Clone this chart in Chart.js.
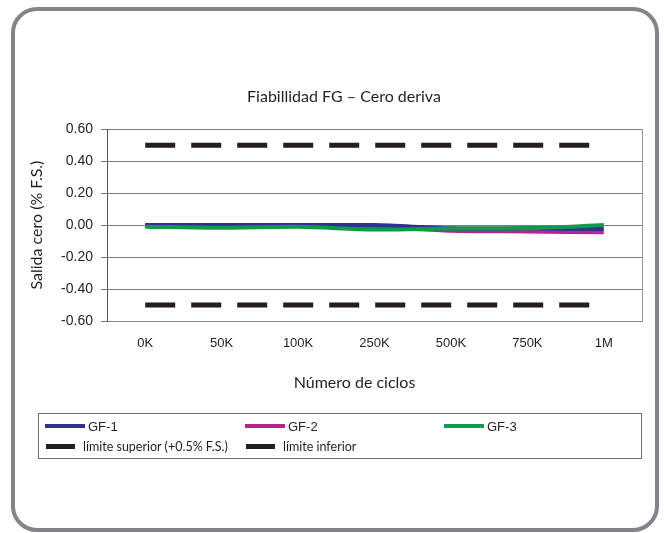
<!DOCTYPE html>
<html lang="es">
<head>
    <meta charset="utf-8">
    <title>Fiabillidad FG – Cero deriva</title>
    <script src="https://cdn.jsdelivr.net/npm/chart.js"></script>
    <style>
        body { margin: 0; padding: 0; background: #fff; }
        .frame { position: absolute; left: 11px; top: 7px; width: 648px; height: 525px; box-sizing: border-box;
                 border: 4px solid #838487; border-radius: 26px; }
        #chart { position: absolute; left: 0; top: 0; }
        .legend { position: absolute; left: 38px; top: 413px; width: 604px; height: 46px; box-sizing: border-box;
                  border: 1px solid #6d6e71; padding: 2px 0 0 6px;
                  display: grid; grid-template-columns: 200px 199px 1fr; grid-auto-rows: 20px; }
        .item { display: flex; align-items: center; color: #231f20; white-space: nowrap; }
        .swatch { display: inline-block; }
    </style>
</head>
<body>
    <div class="frame"></div>
    <canvas id="chart" width="664" height="533"></canvas>
    <div class="legend" id="legend"></div>

    <script>
        const ciclos = ["0K", "50K", "100K", "250K", "500K", "750K", "1M"];
        const gf1 = [0.00, 0.00, 0.00, 0.00, -0.02, -0.02, -0.025];
        const gf2 = [0.00, 0.00, -0.005, -0.01, -0.035, -0.04, -0.045];
        const gf3 = [-0.01, -0.017, -0.011, -0.028, -0.021, -0.019, 0.00];
        const limiteSuperior = [0.5, 0.5, 0.5, 0.5, 0.5, 0.5, 0.5];
        const limiteInferior = [-0.5, -0.5, -0.5, -0.5, -0.5, -0.5, -0.5];

        const dark = "#231f20";
        const serie = (label, data, color, order) => ({
            label, data, borderColor: color, backgroundColor: color, borderWidth: 4,
            pointRadius: 0, tension: 0.3, fill: false, order
        });
        const limite = (label, data) => ({
            label, data, borderColor: dark, backgroundColor: dark, borderWidth: 5,
            borderDash: [30, 16], borderCapStyle: "butt", pointRadius: 0, fill: false, order: 5
        });

        const chart = new Chart(document.getElementById("chart"), {
            type: "line",
            data: {
                labels: ciclos,
                datasets: [
                    serie("GF-1", gf1, "#2e3192", 1),
                    serie("GF-2", gf2, "#b8248f", 2),
                    serie("GF-3", gf3, "#0f9a4c", 0),
                    limite("límite superior (+0.5% F.S.)", limiteSuperior),
                    limite("límite inferior", limiteInferior)
                ]
            },
            options: {
                responsive: false,
                animation: false,
                layout: { padding: { left: 24, right: 0, top: 0, bottom: 141 } },
                plugins: {
                    legend: { display: false },
                    tooltip: { enabled: false },
                    title: {
                        display: true,
                        text: "Fiabillidad FG – Cero deriva",
                        color: dark,
                        font: { family: "Lato", size: 16, weight: "normal", lineHeight: 1.2 },
                        padding: { top: 87, bottom: 23 }
                    }
                },
                scales: {
                    x: {
                        offset: true,
                        grid: { display: false, drawTicks: false },
                        border: { display: true, color: "#8a8a8a" },
                        ticks: { color: dark, padding: 15, font: { family: "Liberation Sans", size: 13 } },
                        title: {
                            display: true,
                            // trailing en spaces nudge the centred title left, as in the original
                            text: "Número de ciclos\u2002\u2002\u2002\u2002\u2002",
                            color: dark,
                            font: { family: "Lato", size: 16, lineHeight: 1.2 },
                            padding: { top: 0, bottom: 0 }
                        },
                        afterFit: s => { s.height = 71; }
                    },
                    y: {
                        min: -0.6, max: 0.6,
                        grid: { color: "#7d7d7d", tickLength: 6 },
                        border: { color: "#555" },
                        ticks: {
                            stepSize: 0.2, color: dark, padding: 8,
                            font: { family: "Liberation Sans", size: 14 },
                            callback: v => v.toFixed(2)
                        },
                        title: {
                            display: true, text: "Salida cero (% F.S.)", color: dark,
                            font: { family: "Lato", size: 16, lineHeight: 1.2 },
                            padding: { top: 3, bottom: 0 }
                        },
                        afterFit: s => { s.width = 83; }
                    },
                    yRight: {
                        position: "right",
                        min: -0.6, max: 0.6,
                        grid: { display: false },
                        border: { display: true, color: "#999" },
                        ticks: { display: false },
                        afterFit: s => { s.width = 22; }
                    }
                }
            }
        });

        // legend built from the datasets
        const legend = document.getElementById("legend");
        const rows = [chart.data.datasets.slice(0, 3), chart.data.datasets.slice(3)];
        rows.forEach((row, r) => {
            row.forEach((ds, c) => {
                const isLimit = !!ds.borderDash;
                const item = document.createElement("div");
                item.className = "item";
                item.style.gridRow = r + 1;
                item.style.gridColumn = c + 1;
                const sw = document.createElement("span");
                sw.className = "swatch";
                sw.style.width = isLimit ? "29px" : "40px";
                sw.style.height = isLimit ? "5px" : "4px";
                sw.style.background = ds.borderColor;
                sw.style.marginRight = isLimit ? "8px" : "3px";
                if (isLimit) sw.style.marginLeft = "1px";
                const txt = document.createElement("span");
                txt.textContent = ds.label;
                txt.style.font = isLimit ? "12.5px Lato" : "13px 'Liberation Sans'";
                item.appendChild(sw);
                item.appendChild(txt);
                legend.appendChild(item);
            });
        });
    </script>
</body>
</html>
